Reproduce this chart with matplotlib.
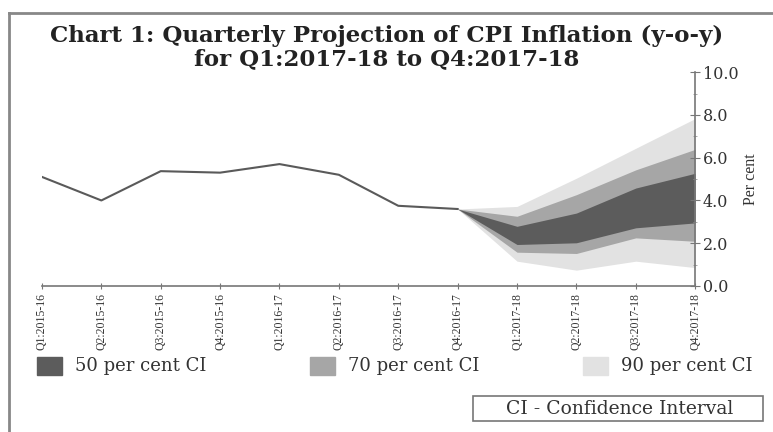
import numpy as np
import matplotlib
matplotlib.use("Agg")
import matplotlib.pyplot as plt
from matplotlib.patches import Rectangle

quarters = ["Q1:2015-16", "Q2:2015-16", "Q3:2015-16", "Q4:2015-16",
            "Q1:2016-17", "Q2:2016-17", "Q3:2016-17", "Q4:2016-17",
            "Q1:2017-18", "Q2:2017-18", "Q3:2017-18", "Q4:2017-18"]
actual = [5.1, 4.0, 5.37, 5.3, 5.7, 5.2, 3.75, 3.6]

# projection bands, starting at Q4:2016-17
proj_idx = [7, 8, 9, 10, 11]
hi90 = [3.6, 3.72, 5.04, 6.44, 7.83]
hi70 = [3.6, 3.26, 4.27, 5.43, 6.39]
hi50 = [3.6, 2.79, 3.41, 4.58, 5.27]
lo50 = [3.6, 1.94, 2.02, 2.72, 2.95]
lo70 = [3.6, 1.58, 1.52, 2.25, 2.09]
lo90 = [3.6, 1.16, 0.74, 1.16, 0.86]

C50, C70, C90, LINE = "#5c5c5c", "#a6a6a6", "#e2e2e2", "#5a5a5a"
SERIF = "DejaVu Serif"

fig = plt.figure(figsize=(7.73, 4.32), dpi=100)
ax = fig.add_axes([0.0543, 0.338, 0.845, 0.495])

ax.fill_between(proj_idx, lo90, hi90, color=C90, lw=0)
ax.fill_between(proj_idx, lo70, hi70, color=C70, lw=0)
ax.fill_between(proj_idx, lo50, hi50, color=C50, lw=0)
ax.plot(range(len(actual)), actual, color=LINE, lw=1.5)

ax.set_xlim(0, len(quarters) - 1)
ax.set_ylim(0, 10)
ax.set_xticks(range(len(quarters)))
ax.set_xticklabels(quarters, rotation=90, fontsize=8.5, family="Liberation Serif", color="#333")
ax.set_yticks(np.arange(0, 10.1, 2))
ax.set_yticklabels([f"{v:.1f}" for v in np.arange(0, 10.1, 2)], fontsize=11.5, family=SERIF, color="#333")
ax.set_yticks(np.arange(0, 10.1, 1), minor=True)
ax.yaxis.tick_right()
ax.yaxis.set_label_position("right")
ax.set_ylabel("Per cent", fontsize=11.5, family="Liberation Serif", color="#333", labelpad=3)
for s in ("left", "top"):
    ax.spines[s].set_visible(False)
for s in ("right", "bottom"):
    ax.spines[s].set_color("#777")
    ax.spines[s].set_linewidth(1.2)
ax.tick_params(axis="y", which="major", direction="inout", length=7, color="#777", pad=2)
ax.tick_params(axis="y", which="minor", direction="inout", length=3, color="#999")
ax.tick_params(axis="x", direction="inout", length=4, color="#777", pad=3)

# title, two separate lines
fig.text(0.5, 1 - 36 / 432, "Chart 1: Quarterly Projection of CPI Inflation (y-o-y)",
         ha="center", va="center", fontsize=16.5, fontweight="bold", family=SERIF, color="#222")
fig.text(0.5, 1 - 59 / 432, "for Q1:2017-18 to Q4:2017-18",
         ha="center", va="center", fontsize=16.5, fontweight="bold", family=SERIF, color="#222")

# outer frame (left and top edges)
fig.add_artist(plt.Line2D([9 / 773, 9 / 773], [0, 1 - 13 / 432], color="#888", lw=2))
fig.add_artist(plt.Line2D([9 / 773, 1], [1 - 13 / 432, 1 - 13 / 432], color="#888", lw=2))

# legend
leg_y = 1 - 366 / 432
for x0, col, lab in [(37, C50, "50 per cent CI"), (310, C70, "70 per cent CI"), (583, C90, "90 per cent CI")]:
    fig.add_artist(Rectangle((x0 / 773, leg_y - 0.02), 25 / 773, 0.04, color=col, transform=fig.transFigure))
    fig.text((x0 + 38) / 773, leg_y, lab, ha="left", va="center", fontsize=13, family=SERIF, color="#333")

fig.add_artist(Rectangle((473 / 773, 1 - 421 / 432), 290 / 773, 25 / 432, fill=False,
                         ec="#777", lw=1.2, transform=fig.transFigure))
fig.text(620 / 773, 1 - 408.5 / 432, "CI - Confidence Interval", ha="center", va="center",
         fontsize=13.5, family=SERIF, color="#333")

fig.savefig("out.png", dpi=100)
